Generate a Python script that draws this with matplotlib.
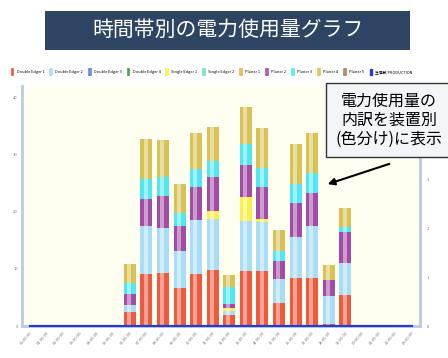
import matplotlib
matplotlib.use('Agg')
import matplotlib.pyplot as plt
import numpy as np
from matplotlib.patches import Patch, Rectangle

plt.rcParams['font.family'] = ['Noto Sans CJK JP', 'DejaVu Sans']

# 時間帯 (0〜23時)
hours = [f'{h:02d}:00:00' for h in range(24)]

# 装置別の電力使用量 (6時〜19時以外は0)
de1 = [0] * 6 + [2.5, 9.1, 9.3, 6.7, 9.1, 9.8, 1.9, 9.6, 9.6, 4.0, 8.4, 8.4, 0.4, 5.4] + [0] * 4
de2 = [0] * 6 + [1.2, 8.4, 7.9, 6.5, 9.5, 9.0, 0.7, 8.8, 8.6, 4.2, 7.2, 9.1, 4.9, 5.7] + [0] * 4
de3 = [0] * 24
de4 = [0] * 24
se1 = [0] * 6 + [0, 0, 0, 0, 0, 1.4, 0.6, 4.1, 0.6, 0, 0, 0, 0, 0] + [0] * 4
se2 = [0] * 24
pl1 = [0] * 24
pl2 = [0] * 6 + [1.9, 4.8, 5.6, 4.3, 5.8, 5.8, 0.7, 5.6, 5.6, 3.2, 6.0, 5.8, 2.8, 5.4] + [0] * 4
pl3 = [0] * 6 + [1.9, 3.5, 3.2, 2.3, 3.0, 2.8, 3.0, 3.7, 3.3, 1.8, 3.3, 3.4, 0, 0.9] + [0] * 4
pl4 = [0] * 6 + [3.4, 7.0, 6.6, 5.1, 6.3, 6.1, 2.0, 6.6, 6.9, 3.6, 7.0, 7.0, 2.6, 3.3] + [0] * 4
pl5 = [0] * 24
production = [0] * 24

names = ['Double Edger 1', 'Double Edger 2', 'Double Edger 3', 'Double Edger 4',
         'Single Edger 1', 'Single Edger 2', 'Planer 1', 'Planer 2', 'Planer 3',
         'Planer 4', 'Planer 5']
series = [de1, de2, de3, de4, se1, se2, pl1, pl2, pl3, pl4, pl5]
colors = ['#EC5A40', '#A9DDF6', '#5A84DC', '#4E9E52', '#FBEF4E', '#74E2C4',
          '#F2B446', '#A24CA6', '#52E6EE', '#D9C255', '#AE7E5E']

fig = plt.figure(figsize=(4.48, 3.58), dpi=100)
fig.patch.set_facecolor('white')

# タイトルの帯
fig.patches.append(Rectangle((45 / 448, 1 - 50 / 358), 365 / 448, 39 / 358,
                             transform=fig.transFigure, facecolor='#2D4462',
                             edgecolor='none', zorder=0))
fig.text(228 / 448, 1 - 30 / 358, '時間帯別の電力使用量グラフ', color='white',
         fontsize=15, ha='center', va='center')

ax = fig.add_axes([22 / 448, 1 - 326 / 358, 398 / 448, 240 / 358])
ax.set_facecolor('#FFFFF1')
x = np.arange(24)
bottom = np.zeros(24)
for vals, c in zip(series, colors):
    v = np.array(vals, dtype=float)
    if v.sum() > 0:
        ax.bar(x, v, width=0.72, bottom=bottom, color=c, edgecolor='none', zorder=2)
    bottom += v
# 円柱風のハイライト
ax.bar(x - 0.05, bottom, width=0.24, color='white', alpha=0.45, edgecolor='none', zorder=3)

ax.set_xlim(-0.5, 23.5)
ax.set_ylim(0, 42)
ax.set_yticks([0, 10, 20, 30, 40])
ax.set_xticks(x)
ax.set_xticklabels(hours, rotation=50, ha='right', rotation_mode='anchor')
ax.tick_params(axis='both', length=0, labelsize=3, colors='#777777', pad=3)
for s in ['left', 'right', 'bottom']:
    ax.spines[s].set_color('#BACCE0')
    ax.spines[s].set_linewidth(2)
ax.spines['top'].set_visible(False)

ax2 = ax.twinx()
ax2.plot(x, production, color='#2A3AD0', lw=1.6, clip_on=False, zorder=5)
ax2.set_ylim(0, 4.93)
ax2.set_yticks([0, 1, 2, 3])
ax2.tick_params(axis='y', length=0, labelsize=3, colors='#777777', pad=5)
for s in ['left', 'right', 'bottom', 'top']:
    ax2.spines[s].set_visible(False)

handles = [Patch(facecolor='#F4F4F4', edgecolor=c, linewidth=1.2) for c in colors]
handles.append(Patch(facecolor='#2A3AD0', edgecolor='#2A3AD0'))
fig.legend(handles, names + ['生産数 PRODUCTION'], loc='center left',
           bbox_to_anchor=(8 / 448, 1 - 72 / 358), ncol=12, frameon=False,
           fontsize=2.8, handlelength=0.5, handleheight=2.2, handletextpad=0.8,
           columnspacing=1.5)

# 注釈
fig.text(389 / 448, 1 - 120 / 358, '電力使用量の\n内訳を装置別\n(色分け)に表示',
         fontsize=11.5, ha='center', va='center', linespacing=1.15, zorder=10,
         bbox=dict(boxstyle='square,pad=0.6', facecolor='#F3F5F9',
                   edgecolor='#333333', linewidth=1))
ax.annotate('', xy=(325 / 448, 1 - 185 / 358), xytext=(392 / 448, 1 - 163 / 358),
            xycoords='figure fraction', textcoords='figure fraction',
            arrowprops=dict(arrowstyle='-|>', color='black', lw=1.5), zorder=10)

fig.savefig('out.png', dpi=100)
